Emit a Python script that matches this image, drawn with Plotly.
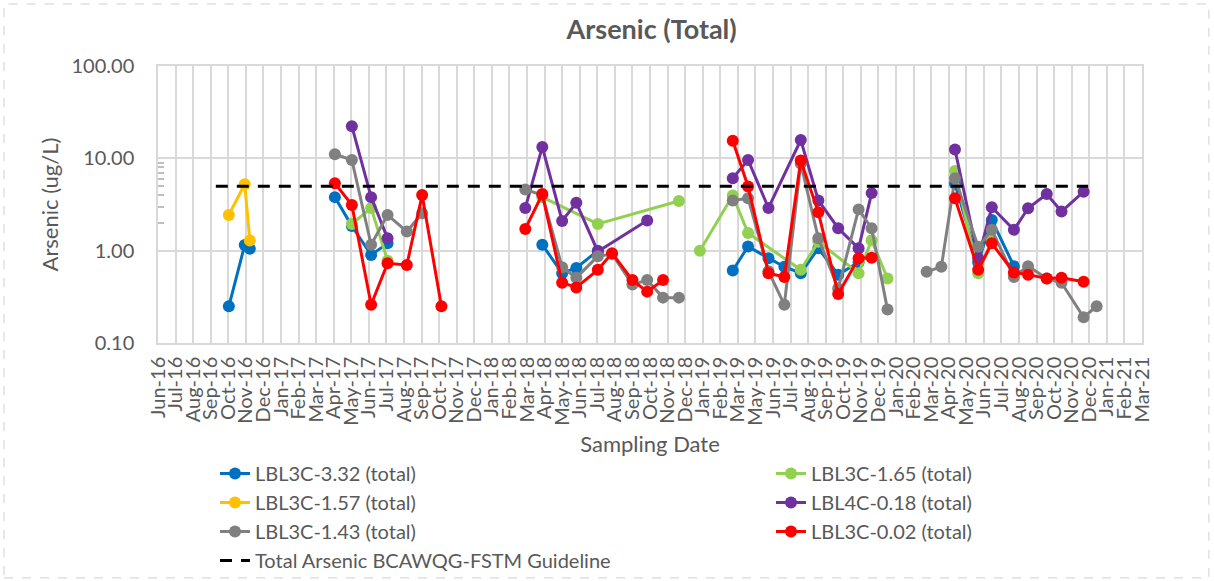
import plotly.graph_objects as go

# ---- Sampling data (ug/L). None marks a break between sampling campaigns ----
blue_dates = ['2016-10-14', '2016-11-11', '2016-11-20', None,
              '2017-04-19', '2017-05-19', '2017-06-22', '2017-07-21', None,
              '2018-04-20', '2018-05-25', '2018-06-19', '2018-07-27', None,
              '2019-03-22', '2019-04-18', '2019-05-24', '2019-06-21', '2019-07-20',
              '2019-08-20', '2019-09-24', '2019-10-30', None,
              '2020-04-17', '2020-05-28', '2020-06-21', '2020-07-30']
blue_vals = [0.25, 1.15, 1.05, None,
             3.8, 1.85, 0.9, 1.2, None,
             1.16, 0.57, 0.65, 1.0, None,
             0.61, 1.11, 0.83, 0.67, 0.57, 1.06, 0.55, 0.75, None,
             5.3, 0.75, 2.15, 0.68]

green_dates = ['2017-05-19', '2017-06-22', '2017-07-21', None,
               '2018-04-20', '2018-07-27', '2018-12-17', None,
               '2019-01-23', '2019-03-22', '2019-04-18', '2019-07-20', '2019-08-20',
               '2019-10-30', '2019-11-22', '2019-12-20', None,
               '2020-04-17', '2020-05-28', '2020-06-21']
green_vals = [1.95, 2.9, 0.78, None,
              3.8, 1.95, 3.45, None,
              1.0, 3.95, 1.55, 0.62, 1.25, 0.57, 1.3, 0.5, None,
              7.3, 0.57, 1.3]

yellow_dates = ['2016-10-14', '2016-11-11', '2016-11-20']
yellow_vals = [2.44, 5.24, 1.29]

purple_dates = ['2017-05-19', '2017-06-22', '2017-07-21', None,
                '2018-03-21', '2018-04-20', '2018-05-25', '2018-06-19', '2018-07-27',
                '2018-10-22', None,
                '2019-03-22', '2019-04-18', '2019-05-24', '2019-07-20', '2019-08-20',
                '2019-09-24', '2019-10-30', '2019-11-22', None,
                '2020-04-17', '2020-05-28', '2020-06-21', '2020-07-30', '2020-08-24',
                '2020-09-26', '2020-10-22', '2020-11-30']
purple_vals = [22.3, 3.8, 1.36, None,
               2.9, 13.3, 2.1, 3.3, 0.98, 2.12, None,
               6.1, 9.6, 2.9, 15.8, 3.5, 1.75, 1.06, 4.2, None,
               12.5, 0.83, 2.95, 1.68, 2.88, 4.1, 2.65, 4.35]

gray_dates = ['2017-04-19', '2017-05-19', '2017-06-22', '2017-07-21', '2017-08-24',
              '2017-09-20', None,
              '2018-03-21', '2018-04-20', '2018-05-25', '2018-06-19', '2018-07-27',
              '2018-08-21', '2018-09-26', '2018-10-22', '2018-11-19', '2018-12-17', None,
              '2019-03-22', '2019-04-18', '2019-05-24', '2019-06-21', '2019-07-20',
              '2019-08-20', '2019-09-24', '2019-10-30', '2019-11-22', '2019-12-20', None,
              '2020-02-27', '2020-03-24', '2020-04-17', '2020-05-28', '2020-06-21',
              '2020-07-30', '2020-08-24', '2020-09-26', '2020-10-22', '2020-11-30',
              '2020-12-23']
gray_vals = [11.1, 9.6, 1.16, 2.44, 1.61, 2.54, None,
             4.6, 4.0, 0.66, 0.51, 0.87, 0.92, 0.43, 0.48, 0.31, 0.31, None,
             3.5, 3.7, 0.6, 0.26, 8.8, 1.36, 0.39, 2.8, 1.75, 0.23, None,
             0.59, 0.67, 6.1, 1.1, 1.68, 0.52, 0.68, 0.5, 0.45, 0.19, 0.25]

red_dates = ['2017-04-19', '2017-05-19', '2017-06-22', '2017-07-21', '2017-08-24',
             '2017-09-20', '2017-10-24', None,
             '2018-03-21', '2018-04-20', '2018-05-25', '2018-06-19', '2018-07-27',
             '2018-08-21', '2018-09-26', '2018-10-22', '2018-11-19', None,
             '2019-03-22', '2019-04-18', '2019-05-24', '2019-06-21', '2019-07-20',
             '2019-08-20', '2019-09-24', '2019-10-30', '2019-11-22', None,
             '2020-04-17', '2020-05-28', '2020-06-21', '2020-07-30', '2020-08-24',
             '2020-09-26', '2020-10-22', '2020-11-30']
red_vals = [5.37, 3.13, 0.26, 0.73, 0.70, 4.0, 0.25, None,
            1.72, 4.1, 0.45, 0.40, 0.62, 0.94, 0.48, 0.36, 0.48, None,
            15.5, 4.95, 0.57, 0.52, 9.5, 2.6, 0.34, 0.83, 0.84, None,
            3.7, 0.62, 1.2, 0.58, 0.55, 0.50, 0.51, 0.46]

guide_dates = ['2016-09-21', '2020-12-08']
guide_vals = [5.0, 5.0]

y_tick_vals = [0.1, 1, 10, 100]
y_tick_text = ['0.10', '1.00', '10.00', '100.00']

FONT = 'Lato'
TXT = '#595959'
GRID = '#D9D9D9'

series = [
    ('LBL3C-3.32 (total)', blue_dates, blue_vals, '#0070C0', 'legend'),
    ('LBL3C-1.65 (total)', green_dates, green_vals, '#92D050', 'legend2'),
    ('LBL3C-1.57 (total)', yellow_dates, yellow_vals, '#FFC000', 'legend'),
    ('LBL4C-0.18 (total)', purple_dates, purple_vals, '#7030A0', 'legend2'),
    ('LBL3C-1.43 (total)', gray_dates, gray_vals, '#808080', 'legend'),
    ('LBL3C-0.02 (total)', red_dates, red_vals, '#FF0000', 'legend2'),
]

fig = go.Figure()
for name, xs, ys, color, leg in series:
    fig.add_trace(go.Scatter(
        x=xs, y=ys, name=name, mode='lines+markers',
        line=dict(color=color, width=3),
        marker=dict(color=color, size=12),
        connectgaps=False, legend=leg,
    ))

fig.add_trace(go.Scatter(
    x=guide_dates, y=guide_vals, name='Total Arsenic BCAWQG-FSTM Guideline',
    mode='lines', line=dict(color='black', width=3, dash='12px,9px'),
    legend='legend',
))

MONTH_MS = 31 * 24 * 3600 * 1000

legend_common = dict(orientation='v', xanchor='left', yanchor='top',
                     xref='container', yref='container',
                     font=dict(family=FONT, size=20, color=TXT),
                     bgcolor='rgba(0,0,0,0)', traceorder='normal')

fig.update_layout(
    width=1214, height=581,
    margin=dict(l=158, r=72, t=66, b=238, autoexpand=False),
    paper_bgcolor='white', plot_bgcolor='white',
    font=dict(family=FONT, color=TXT, size=20),
    title=dict(text='<b>Arsenic (Total)</b>', x=0.5017, xref='paper', xanchor='center',
               y=1 - 30 / 581, yref='container', yanchor='middle',
               font=dict(family=FONT, size=27, color=TXT)),
    legend=dict(x=0.1771, y=0.2186, **legend_common),
    legend2=dict(x=0.6351, y=0.2186, **legend_common),
    shapes=[dict(type='rect', xref='paper', yref='paper',
                 x0=-0.1565, x1=1.068, y0=-0.848, y1=1.224,
                 line=dict(color='#D0D0D0', width=1, dash='dash'))],
    annotations=[dict(text='Arsenic (ug/L)', xref='paper', yref='paper',
                      x=-0.1098, y=0.5, xanchor='center', yanchor='middle',
                      textangle=-90, showarrow=False,
                      font=dict(family=FONT, size=22, color=TXT))],
)

fig.update_xaxes(
    type='date', range=['2016-06-11', '2021-03-13'],
    tick0='2016-06-11', dtick=MONTH_MS, tickformat='%b-%y', tickangle=-90,
    showgrid=True, gridcolor=GRID, gridwidth=1.5,
    showline=True, linecolor=GRID, linewidth=1.5, mirror=True,
    ticks='', ticklabelstandoff=4,
    tickfont=dict(family=FONT, size=20, color=TXT),
    title=dict(text='Sampling Date', font=dict(family=FONT, size=22, color=TXT), standoff=12),
    zeroline=False,
)

fig.update_yaxes(
    type='log', range=[-1, 2],
    tickmode='array', tickvals=y_tick_vals, ticktext=y_tick_text,
    showgrid=True, gridcolor=GRID, gridwidth=1.5,
    showline=True, linecolor=GRID, linewidth=1.5, mirror=True,
    ticks='', ticklabelstandoff=18,
    tickfont=dict(family=FONT, size=20, color=TXT),
    minor=dict(tickmode='array', tickvals=[2, 3, 4, 5, 6, 7, 8, 9], ticks='inside',
               ticklen=6, tickwidth=1.5, tickcolor='#BFBFBF', showgrid=False),
    zeroline=False,
)

fig.write_html('out.html')
